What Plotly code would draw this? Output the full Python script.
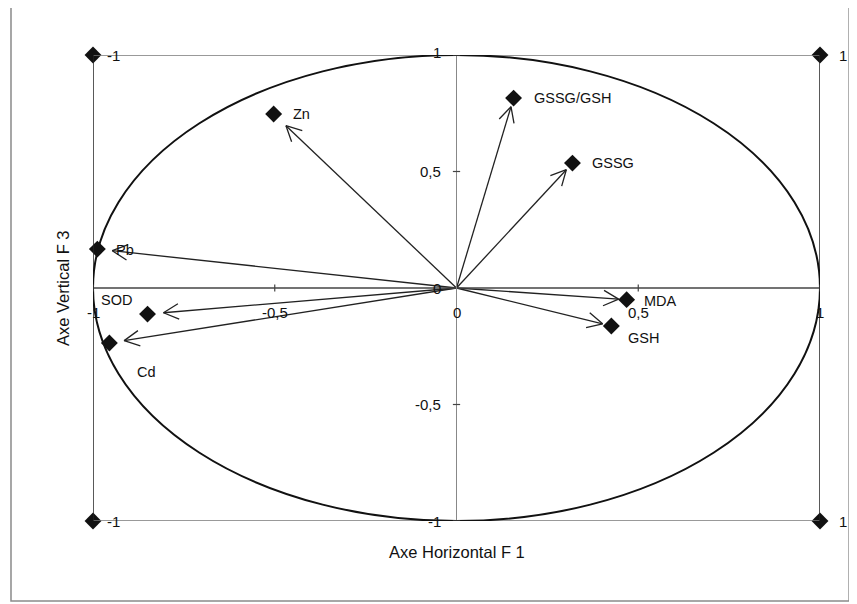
import math
import plotly.graph_objects as go

# ---- data ----
variables = ["Zn", "GSSG/GSH", "GSSG", "Pb", "SOD", "Cd", "MDA", "GSH"]
f1 = [-0.503, 0.157, 0.319, -0.988, -0.850, -0.955, 0.468, 0.426]
f3 = [0.747, 0.815, 0.536, 0.167, -0.112, -0.236, -0.050, -0.163]

# ---- styling (pixels) ----
label_dx = [17, 18, 18, 17, -31, 37, 15, 15]
label_dy = [0, 0, 0, -1, 14, -29, -1, -12]
label_anchor = ["left", "left", "left", "left", "center", "center", "left", "left"]
arrow_gap = [17, 9, 9, 15, 16, 15, 8, 9]

corner_x = [-1, 1, -1, 1]
corner_y = [1, 1, -1, -1]
corner_labels = ["-1", "1", "-1", "1"]

xtick_vals = [-1, -0.5, 0, 0.5, 1]
xtick_text = ["-1", "-0,5", "0", "0,5", "1"]
ytick_vals = [1, 0.5, 0, -0.5, -1]
ytick_text = ["1", "0,5", "0", "-0,5", "-1"]

FONT = "Liberation Sans, Arial, sans-serif"
W, H = 857, 604
ML, MR, MT, MB = 85, 45, 47, 91
XR, YR = [-1, 1], [-1, 1]
SX = (W - ML - MR) / (XR[1] - XR[0])   # px per data unit (x)
SY = (H - MT - MB) / (YR[1] - YR[0])   # px per data unit (y)
HEAD_LEN, HEAD_ANG = 17, math.radians(27)

fig = go.Figure()

shapes = []
shapes.append(dict(type="rect", xref="paper", yref="paper",
                   x0=-0.1128, x1=1.04, y0=-0.1717, y1=1.103,
                   line=dict(color="#8a8a8a", width=1.5), layer="below"))
shapes.append(dict(type="line", xref="x", yref="y", x0=-1, x1=1, y0=1, y1=1,
                   line=dict(color="#777777", width=1.5)))
shapes.append(dict(type="line", xref="x", yref="y", x0=-1, x1=1, y0=-1, y1=-1,
                   line=dict(color="#777777", width=1.5)))
shapes.append(dict(type="line", xref="x", yref="y", x0=-1, x1=-1, y0=-1, y1=1,
                   line=dict(color="#222222", width=1.5)))
shapes.append(dict(type="line", xref="x", yref="y", x0=1, x1=1, y0=-1, y1=1,
                   line=dict(color="#222222", width=1.5)))
shapes.append(dict(type="line", xref="x", yref="y", x0=-1, x1=1, y0=0, y1=0,
                   line=dict(color="#444444", width=1.3)))
shapes.append(dict(type="line", xref="x", yref="y", x0=0, x1=0, y0=-1, y1=1,
                   line=dict(color="#888888", width=1)))
shapes.append(dict(type="circle", xref="x", yref="y", x0=-1, x1=1, y0=-1, y1=1,
                   line=dict(color="#111111", width=2)))
for v in xtick_vals:
    if v != 0:
        shapes.append(dict(type="line", xref="x", yref="y", x0=v, x1=v, y0=-0.015, y1=0.015,
                           line=dict(color="#444444", width=1.2)))
for v in ytick_vals:
    if v != 0:
        shapes.append(dict(type="line", xref="x", yref="y", x0=-0.01, x1=0.01, y0=v, y1=v,
                           line=dict(color="#444444", width=1.2)))

# arrows (shaft + open V head), built from the data vectors
ax_, ay_ = [], []
for xv, yv, gap in zip(f1, f3, arrow_gap):
    px, py = xv * SX, yv * SY
    L = math.hypot(px, py)
    ux, uy = px / L, py / L
    tx, ty = ux * (L - gap), uy * (L - gap)
    ax_ += [0, tx / SX, None]
    ay_ += [0, ty / SY, None]
    for s in (1, -1):
        c, sn = math.cos(s * HEAD_ANG), math.sin(s * HEAD_ANG)
        rx, ry = ux * c - uy * sn, ux * sn + uy * c
        ax_.append((tx - HEAD_LEN * rx) / SX)
        ay_.append((ty - HEAD_LEN * ry) / SY)
        if s == 1:
            ax_.append(tx / SX)
            ay_.append(ty / SY)
    ax_.append(None)
    ay_.append(None)
fig.add_trace(go.Scatter(x=ax_, y=ay_, mode="lines",
                         line=dict(color="#222222", width=1.3),
                         hoverinfo="skip", showlegend=False, cliponaxis=False))

fig.add_trace(go.Scatter(x=corner_x, y=corner_y, mode="markers",
                         marker=dict(symbol="diamond", size=13, color="#111111"),
                         cliponaxis=False, hoverinfo="skip", showlegend=False))
fig.add_trace(go.Scatter(x=f1, y=f3, mode="markers",
                         marker=dict(symbol="diamond", size=13, color="#111111"),
                         cliponaxis=False, showlegend=False, text=variables))

annotations = []
for name, xv, yv, dx, dy, anc in zip(variables, f1, f3, label_dx, label_dy, label_anchor):
    annotations.append(dict(x=xv, y=yv, xref="x", yref="y", text=name, showarrow=False,
                            xanchor=anc, yanchor="middle", xshift=dx, yshift=dy,
                            font=dict(family=FONT, size=14.5, color="#111111")))
for xv, yv, t in zip(corner_x, corner_y, corner_labels):
    annotations.append(dict(x=xv, y=yv, xref="x", yref="y", text=t, showarrow=False,
                            xanchor="left", yanchor="middle", xshift=12 if t == "-1" else 17,
                            font=dict(family=FONT, size=15, color="#111111")))
for v, t in zip(xtick_vals, xtick_text):
    annotations.append(dict(x=v, y=0, xref="x", yref="y", text=t, showarrow=False,
                            xanchor="center", yanchor="middle", yshift=-24,
                            font=dict(family=FONT, size=15, color="#111111")))
for v, t in zip(ytick_vals, ytick_text):
    annotations.append(dict(x=0, y=v, xref="x", yref="y", text=t, showarrow=False,
                            xanchor="right", yanchor="middle", xshift=-14,
                            yshift=3 if v == 1 else 0,
                            font=dict(family=FONT, size=15, color="#111111")))
annotations.append(dict(x=0, y=-1, xref="x", yref="y", text="Axe Horizontal F 1",
                        showarrow=False, xanchor="center", yanchor="middle", yshift=-31,
                        font=dict(family=FONT, size=16.5, color="#111111")))
annotations.append(dict(x=-1, y=0, xref="x", yref="y", text="Axe Vertical F 3",
                        showarrow=False, textangle=-90, xanchor="center", yanchor="middle",
                        xshift=-30, font=dict(family=FONT, size=16.5, color="#111111")))

fig.update_layout(
    width=W, height=H,
    margin=dict(l=ML, r=MR, t=MT, b=MB),
    paper_bgcolor="white", plot_bgcolor="white",
    xaxis=dict(range=XR, visible=False, fixedrange=True),
    yaxis=dict(range=YR, visible=False, fixedrange=True),
    shapes=shapes, annotations=annotations, showlegend=False,
)

fig.write_html("out.html")
